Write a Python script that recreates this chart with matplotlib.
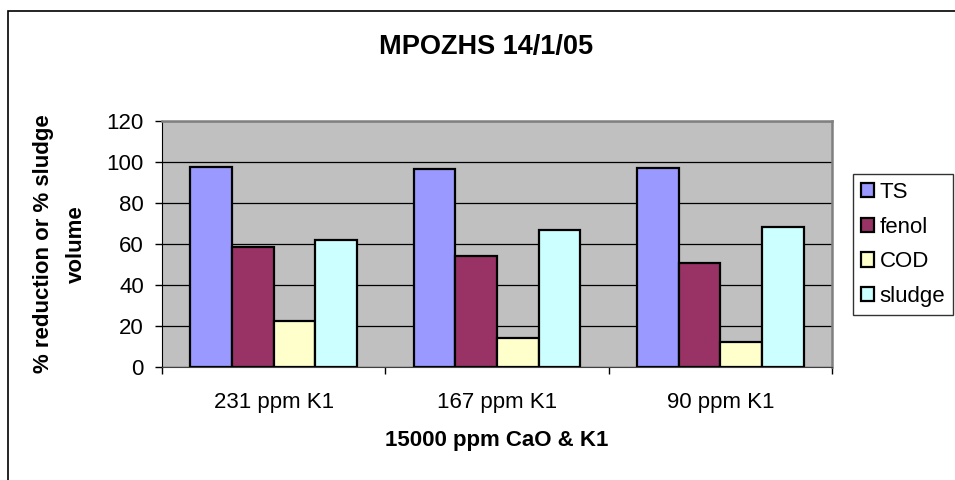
import matplotlib.pyplot as plt
import numpy as np
from matplotlib.patches import Rectangle

plt.rcParams['font.family'] = ['Liberation Sans', 'DejaVu Sans']

# dosage groups on the x axis
dosages = ['231 ppm K1', '167 ppm K1', '90 ppm K1']

# measured values per dosage (% reduction / % sludge volume)
ts = [97.4, 96.7, 97.1]
fenol = [58.4, 54.2, 50.5]
cod = [22.3, 14.3, 12.0]
sludge = [61.8, 66.9, 68.5]

series = [('TS', ts, '#9999FF'),
          ('fenol', fenol, '#993366'),
          ('COD', cod, '#FFFFCC'),
          ('sludge', sludge, '#CCFFFF')]

fig = plt.figure(figsize=(9.55, 4.8), dpi=100)
ax = fig.add_axes([162 / 955, 1 - 367 / 480, 670 / 955, 246 / 480])
ax.set_facecolor('#C0C0C0')

x = np.arange(len(dosages))
w = 1 / 5.36
for i, (name, vals, col) in enumerate(series):
    ax.bar(x + (i - 1.5) * w, vals, w, color=col, edgecolor='black',
           linewidth=1.6, label=name, zorder=3)

ax.set_xlim(-0.5, len(dosages) - 0.5)
ax.set_ylim(0, 120)
ax.set_yticks(range(0, 121, 20))
ax.yaxis.grid(True, color='black', linewidth=0.9, zorder=1)
ax.set_axisbelow(True)

ax.set_xticks(x)
ax.set_xticklabels(dosages)
ax.set_xticks(np.arange(len(dosages) + 1) - 0.5, minor=True)
ax.tick_params(axis='x', which='major', length=0, pad=18, labelsize=16)
ax.tick_params(axis='x', which='minor', length=5, width=1, color='black')
ax.tick_params(axis='y', length=5, width=1, pad=8, labelsize=16)

for s in ('top', 'right'):
    ax.spines[s].set_color('#808080')
    ax.spines[s].set_linewidth(1.8)
ax.spines['left'].set_color('black')
ax.spines['bottom'].set_color('#404040')

ax.set_xlabel('15000 ppm CaO & K1', fontsize=16, fontweight='bold', labelpad=12)
fig.text(60 / 955, 1 - 244 / 480, '% reduction or % sludge\nvolume',
         rotation=90, ha='center', va='center', multialignment='center',
         fontsize=16, fontweight='bold', linespacing=1.7)

fig.text(486 / 955, 1 - 54 / 480, 'MPOZHS 14/1/05', ha='center',
         va='baseline', fontsize=19.5, fontweight='bold')

leg = fig.legend(loc='upper left', bbox_to_anchor=(853 / 955, 1 - 174 / 480),
                 fontsize=16, frameon=True, fancybox=False, shadow=False,
                 borderpad=0.35, labelspacing=0.62, handlelength=0.6,
                 handleheight=0.6, handletextpad=0.25, borderaxespad=0)
leg.get_frame().set_edgecolor('black')
leg.get_frame().set_linewidth(1)

# outer chart border
fig.patches.append(Rectangle((8 / 955, -0.1), 1.1, 1 - 11 / 480 + 0.1,
                             transform=fig.transFigure, fill=False,
                             edgecolor='black', linewidth=1.2))

fig.savefig('out.png', dpi=100)
